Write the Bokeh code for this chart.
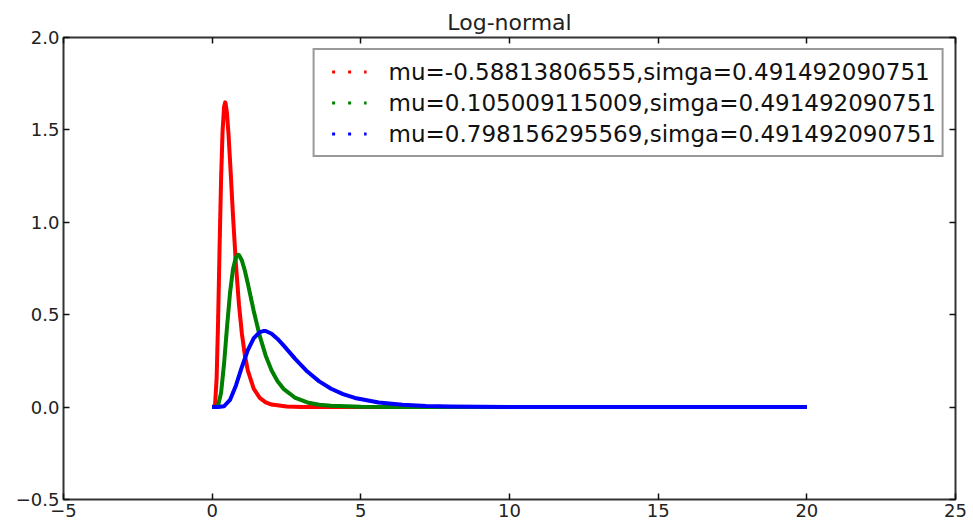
from bokeh.plotting import figure
from bokeh.models import Range1d, LinearAxis, FixedTicker, Legend, LegendItem
from bokeh.embed import file_html
from bokeh.resources import INLINE

# ---- data ----
title_text = "Log-normal"
series_labels = [
    "mu=-0.58813806555,simga=0.491492090751",
    "mu=0.105009115009,simga=0.491492090751",
    "mu=0.798156295569,simga=0.491492090751",
]
series_colors = ["#ff0000", "#008000", "#0000ff"]

red_x = [0, 0.05, 0.1, 0.15, 0.2, 0.25, 0.3, 0.35, 0.4, 0.436, 0.45, 0.5, 0.55, 0.6, 0.7, 0.8, 0.9,
         1.0, 1.1, 1.2, 1.4, 1.6, 1.8, 2.0, 2.5, 3.0, 4.0, 6.0, 10.0, 20.0]
red_y = [0, 0.0001, 0.0185, 0.156, 0.4685, 0.8686, 1.2341, 1.4918, 1.6238, 1.649, 1.6459, 1.5868, 1.4755,
         1.3362, 1.0379, 0.7701, 0.5567, 0.3967, 0.2806, 0.198, 0.0988, 0.05, 0.0258, 0.0136, 0.003,
         0.0007, 0.0001, 0, 0, 0]

green_x = [0, 0.1, 0.2, 0.3, 0.4, 0.5, 0.6, 0.7, 0.8, 0.872, 0.9, 1.0, 1.1, 1.2, 1.4, 1.6, 1.8, 2.0,
           2.2, 2.4, 2.8, 3.2, 3.6, 4.0, 5.0, 6.0, 8.0, 12.0, 20.0]
green_y = [0, 0.00005, 0.0093, 0.078, 0.2343, 0.4343, 0.6171, 0.7459, 0.8119, 0.8246, 0.8229, 0.7934,
           0.7378, 0.6681, 0.5189, 0.385, 0.2784, 0.1983, 0.1403, 0.099, 0.0494, 0.025, 0.0129, 0.0068,
           0.0015, 0.0004, 0.00003, 0, 0]

blue_x = [0, 0.2, 0.4, 0.6, 0.8, 1.0, 1.2, 1.4, 1.6, 1.745, 1.8, 2.0, 2.2, 2.4, 2.8, 3.2, 3.6, 4.0,
          4.4, 4.8, 5.6, 6.4, 7.2, 8.0, 10.0, 12.0, 16.0, 20.0]
blue_y = [0, 0.000025, 0.0046, 0.039, 0.1171, 0.2171, 0.3085, 0.373, 0.406, 0.4123, 0.4115, 0.3967,
          0.3689, 0.3341, 0.2595, 0.1925, 0.1392, 0.0992, 0.0702, 0.0495, 0.0247, 0.0125, 0.0064,
          0.0034, 0.00075, 0.00019, 0.000016, 0]

x_ticks = [-5, 0, 5, 10, 15, 20, 25]
x_tick_labels = ["\u22125", "0", "5", "10", "15", "20", "25"]
y_ticks = [-0.5, 0, 0.5, 1, 1.5, 2]
y_tick_labels = ["\u22120.5", "0.0", "0.5", "1.0", "1.5", "2.0"]

FONT = "DejaVu Sans"
FRAME_COLOR = "#333333"

p = figure(frame_width=892, frame_height=462,
           x_range=Range1d(-5, 25), y_range=Range1d(-0.5, 2.0),
           output_backend="svg", toolbar_location=None,
           min_border_left=63, min_border_right=15, min_border_top=37, min_border_bottom=20,
           x_axis_location=None, y_axis_location=None)
p.xgrid.visible = False
p.ygrid.visible = False
p.outline_line_color = FRAME_COLOR
p.outline_line_width = 2
p.background_fill_color = "white"
p.border_fill_color = "white"

p.title.text = title_text
p.title.align = "center"
p.title.text_font = FONT
p.title.text_font_style = "normal"
p.title.text_font_size = "22px"
p.title.text_color = "#222222"
p.title.standoff = 6


def make_axis(place, ticks, labels, show_labels):
    ax = LinearAxis(ticker=FixedTicker(ticks=ticks))
    ax.axis_line_color = None
    ax.major_tick_in = 6
    ax.major_tick_out = 0
    ax.minor_tick_in = 0
    ax.minor_tick_out = 0
    ax.major_tick_line_color = "#111111"
    ax.major_tick_line_width = 1.5
    ax.major_label_text_font = FONT
    if show_labels:
        ax.major_label_overrides = {t: l for t, l in zip(ticks, labels)}
        ax.major_label_text_font_size = "18px"
        ax.major_label_text_color = "#222222"
        ax.major_label_standoff = 4
    else:
        ax.major_label_overrides = {t: "" for t in ticks}
        ax.major_label_text_font_size = "2px"
        ax.major_label_standoff = 0
    p.add_layout(ax, place)
    return ax


make_axis("below", x_ticks, x_tick_labels, True)
make_axis("left", y_ticks, y_tick_labels, True)
make_axis("above", x_ticks, x_tick_labels, False)
make_axis("right", y_ticks, y_tick_labels, False)

xs = [red_x, green_x, blue_x]
ys = [red_y, green_y, blue_y]
items = []
for x, y, c, lab in zip(xs, ys, series_colors, series_labels):
    p.line(x=x, y=y, line_color=c, line_width=4, line_join="round")
    # dotted overlay (hidden under the solid curve) that supplies the dotted legend glyph
    dots = p.line(x=x, y=y, line_color=c, line_width=3, line_dash="3 13",
                  line_dash_offset=5, line_cap="butt")
    items.append(LegendItem(label=lab, renderers=[dots]))

legend = Legend(items=items, location="top_right")
legend.margin = 11
legend.padding = 6
legend.spacing = 0
legend.glyph_width = 46
legend.glyph_height = 31
legend.label_height = 31
legend.label_standoff = 22
legend.label_text_font = FONT
legend.label_text_font_size = "23px"
legend.label_text_color = "#111111"
legend.border_line_color = FRAME_COLOR
legend.border_line_width = 2
legend.background_fill_color = "white"
legend.background_fill_alpha = 1.0
p.add_layout(legend)

open("out.html", "w").write(file_html(p, INLINE))
